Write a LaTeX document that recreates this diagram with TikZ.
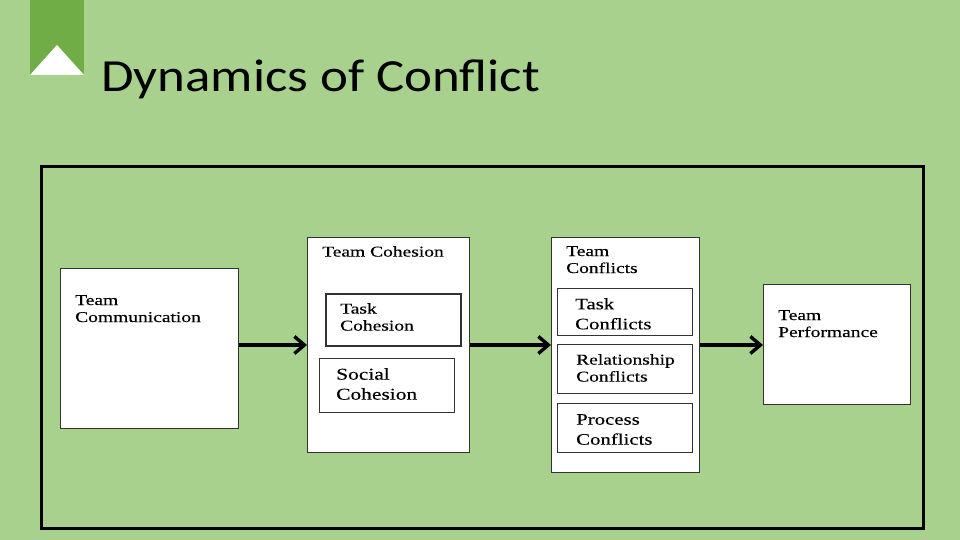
\documentclass[tikz,border=0pt]{standalone}
\usepackage{fontspec}
\newfontfamily\boxfont[FakeStretch=1.3,FakeBold=0.3]{Liberation Serif}
\newfontfamily\titlefont[FakeStretch=1.15]{Carlito}
\usetikzlibrary{arrows.meta}
\definecolor{bg}{HTML}{A9D18E}
\definecolor{banner}{HTML}{70AD47}
\tikzset{
  box/.style={draw=black!80, line width=1.4pt, fill=white, inner sep=0pt, anchor=north west},
  sub/.style={draw=black!80, line width=1.2pt, fill=white, inner sep=0pt, anchor=north west},
  lbl/.style={anchor=north west, inner sep=0pt, align=left, font=\boxfont\fontsize{15}{17}\selectfont},
  conn/.style={line width=3.2pt, -{Straight Barb[length=10pt,width=17pt,line width=3.4pt]}},
}
\begin{document}
\begin{tikzpicture}[x=1pt,y=-1pt]
\fill[bg] (0,0) rectangle (960,540);
\useasboundingbox (0,0) rectangle (960,540);
% banner
\fill[banner] (30,0) rectangle (84,75);
\fill[white] (30,75) -- (57,45) -- (84,75) -- cycle;
\node[anchor=base west, inner sep=0pt, font=\titlefont\fontsize{46}{50}\selectfont] (title) at (101,92) {Dynamics of Conflict};
% outer frame
\node[draw=black, line width=3pt, minimum width=882pt, minimum height=362pt, anchor=north west, inner sep=0pt] (frame) at (40,165) {};
% Team Communication
\node[box, minimum width=178pt, minimum height=160pt] (comm) at (60,268) {};
\node[lbl] (commt) at (75,295) {Team\\Communication};
% Team Cohesion
\node[box, minimum width=162pt, minimum height=215pt] (coh) at (307,237) {};
\node[lbl] (coht) at (322,246) {Team Cohesion};
\node[sub, line width=1.8pt, minimum width=135pt, minimum height=52pt] (taskc) at (325,293) {};
\node[lbl] (taskct) at (340,303) {Task\\Cohesion};
\node[sub, minimum width=135pt, minimum height=54pt] (socc) at (319,358) {};
\node[lbl, font=\boxfont\fontsize{16.5}{20}\selectfont] (socct) at (336,368) {Social\\Cohesion};
% Team Conflicts
\node[box, minimum width=148pt, minimum height=235pt] (conf) at (551,237) {};
\node[lbl] (conft) at (566,246) {Team\\Conflicts};
\node[sub, minimum width=135pt, minimum height=47pt] (taskf) at (557,288) {};
\node[lbl, font=\boxfont\fontsize{16}{20}\selectfont] (taskft) at (575,298) {Task\\Conflicts};
\node[sub, minimum width=135pt, minimum height=49pt] (relf) at (557,344) {};
\node[lbl] (relft) at (576,354) {Relationship\\Conflicts};
\node[sub, minimum width=135pt, minimum height=49pt] (procf) at (557,403) {};
\node[lbl, font=\boxfont\fontsize{16}{20}\selectfont] (procft) at (576,414) {Process\\Conflicts};
% Team Performance
\node[box, minimum width=147pt, minimum height=120pt] (perf) at (763,284) {};
\node[lbl] (perft) at (778,310) {Team\\Performance};
% connectors
\draw[conn] (comm.east |- 0,345) -- (coh.west |- 0,345);
\draw[conn] (coh.east |- 0,345) -- (conf.west |- 0,345);
\draw[conn] (conf.east |- 0,345) -- (perf.west |- 0,345);
\end{tikzpicture}
\end{document}
